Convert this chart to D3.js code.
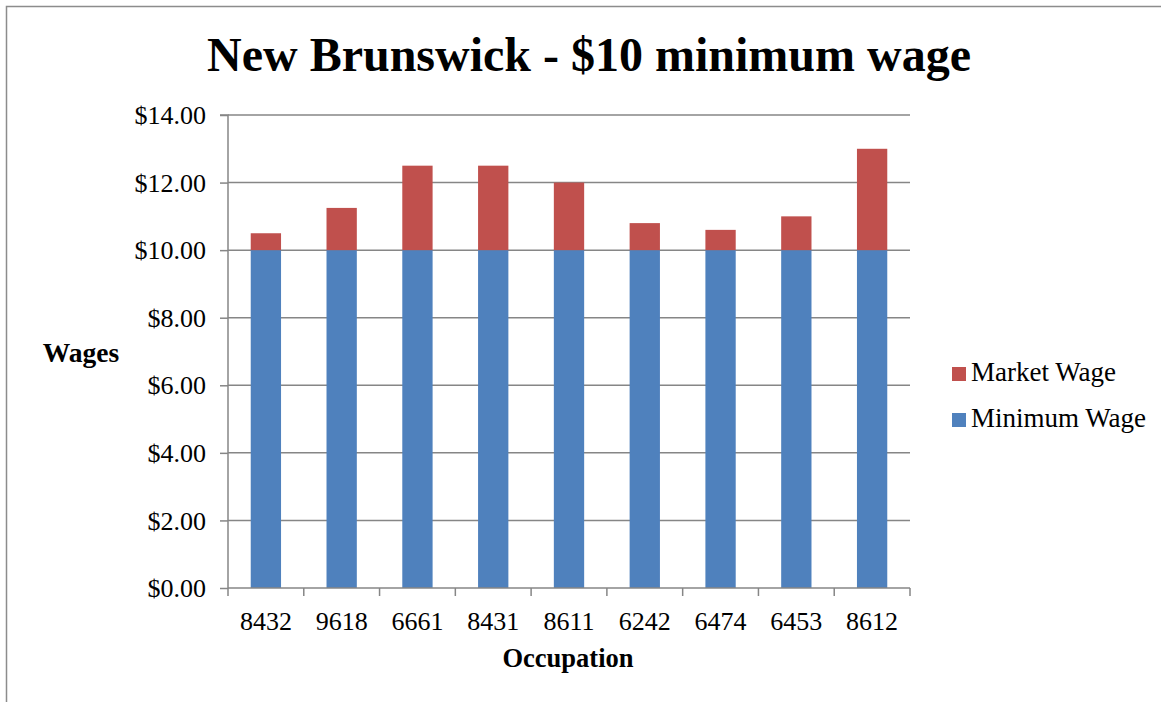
<!DOCTYPE html>
<html>
<head>
<meta charset="utf-8">
<script src="https://cdn.jsdelivr.net/npm/d3@7/dist/d3.min.js"></script>
<style>
  body { margin: 0; background: #fff; }
  text { font-family: "Liberation Serif", "Times New Roman", serif; fill: #000; }
</style>
</head>
<body>
<div id="chart"></div>
<script>
// occupations (x categories) and the two stacked series
const occupations = ["8432", "9618", "6661", "8431", "8611", "6242", "6474", "6453", "8612"]
const minimumWage = [10, 10, 10, 10, 10, 10, 10, 10, 10]
const marketWage  = [0.5, 1.25, 2.5, 2.5, 2, 0.8, 0.6, 1, 3]   // portion above the minimum
const yTicks = [0, 2, 4, 6, 8, 10, 12, 14]
const seriesNames = ["Minimum Wage", "Market Wage"]

const colors = { "Minimum Wage": "#4f81bd", "Market Wage": "#c0504d" }
const width = 1161, height = 702
const plot = { left: 228, right: 910, top: 115, bottom: 588 }

const svg = d3.select("#chart").append("svg")
  .attr("width", width)
  .attr("height", height)

// outer chart border (only top + left visible in the frame)
svg.append("rect")
  .attr("x", 6.5).attr("y", 6.5)
  .attr("width", 1300).attr("height", 900)
  .attr("fill", "none").attr("stroke", "#8c8c8c").attr("stroke-width", 1.5)

const x = d3.scaleBand()
  .domain(occupations)
  .range([plot.left, plot.right])
  .paddingInner(0.6).paddingOuter(0.3)

const y = d3.scaleLinear()
  .domain([0, 14])
  .range([plot.bottom, plot.top])

// gridlines
svg.append("g")
  .selectAll("line")
  .data(yTicks.filter(d => d > 0))
  .join("line")
  .attr("x1", plot.left).attr("x2", plot.right)
  .attr("y1", d => y(d)).attr("y2", d => y(d))
  .attr("stroke", "#868686").attr("stroke-width", 1.5)

// stacked bars
const rows = occupations.map((o, i) => ({ occ: o, "Minimum Wage": minimumWage[i], "Market Wage": marketWage[i] }))
const stack = d3.stack().keys(seriesNames)(rows)

svg.append("g")
  .selectAll("g")
  .data(stack)
  .join("g")
  .attr("fill", s => colors[s.key])
  .selectAll("rect")
  .data(s => s)
  .join("rect")
  .attr("x", d => x(d.data.occ))
  .attr("width", x.bandwidth())
  .attr("y", d => y(d[1]))
  .attr("height", d => y(d[0]) - y(d[1]))

// y axis
const yAxis = svg.append("g")
  .attr("transform", `translate(${plot.left},0)`)
  .call(d3.axisLeft(y).tickValues(yTicks).tickSize(8).tickPadding(14).tickFormat(d => "$" + d3.format(".2f")(d)))
yAxis.select(".domain").attr("stroke", "#868686").attr("stroke-width", 1.5).attr("d", `M-8,${plot.top}H0V${plot.bottom}`)
yAxis.selectAll(".tick line").attr("stroke", "#868686").attr("stroke-width", 1.5)
yAxis.selectAll(".tick text").style("font-family", "Liberation Serif").style("font-size", "26px").attr("dy", "0.33em").attr("fill", "#000")

// x axis: ticks sit between categories
const xAxis = svg.append("g")
  .attr("transform", `translate(0,${plot.bottom})`)
xAxis.append("line")
  .attr("x1", plot.left).attr("x2", plot.right)
  .attr("stroke", "#868686").attr("stroke-width", 1.5)
xAxis.selectAll(".xt")
  .data(d3.range(occupations.length + 1))
  .join("line")
  .attr("x1", i => plot.left + i * (plot.right - plot.left) / occupations.length)
  .attr("x2", i => plot.left + i * (plot.right - plot.left) / occupations.length)
  .attr("y1", 0).attr("y2", 8)
  .attr("stroke", "#868686").attr("stroke-width", 1.5)
xAxis.selectAll("text")
  .data(occupations)
  .join("text")
  .attr("x", d => x(d) + x.bandwidth() / 2)
  .attr("y", 42)
  .attr("text-anchor", "middle")
  .style("font-size", "26px")
  .text(d => d)

// title + axis titles
svg.append("text")
  .attr("x", 589).attr("y", 71)
  .attr("text-anchor", "middle")
  .style("font-size", "48px").style("font-weight", "bold")
  .text("New Brunswick - $10 minimum wage")

svg.append("text")
  .attr("x", 81).attr("y", 362)
  .attr("text-anchor", "middle")
  .style("font-size", "27.5px").style("font-weight", "bold")
  .text("Wages")

svg.append("text")
  .attr("x", 568).attr("y", 667)
  .attr("text-anchor", "middle")
  .style("font-size", "26.5px").style("font-weight", "bold")
  .text("Occupation")

// legend (Market Wage listed first)
const legend = svg.append("g")
  .selectAll("g")
  .data(["Market Wage", "Minimum Wage"])
  .join("g")
  .attr("transform", (d, i) => `translate(952,${367 + i * 46})`)
legend.append("rect")
  .attr("width", 14).attr("height", 14)
  .attr("fill", d => colors[d])
legend.append("text")
  .attr("x", 19).attr("y", 14)
  .style("font-size", "27px")
  .text(d => d)
</script>
</body>
</html>
